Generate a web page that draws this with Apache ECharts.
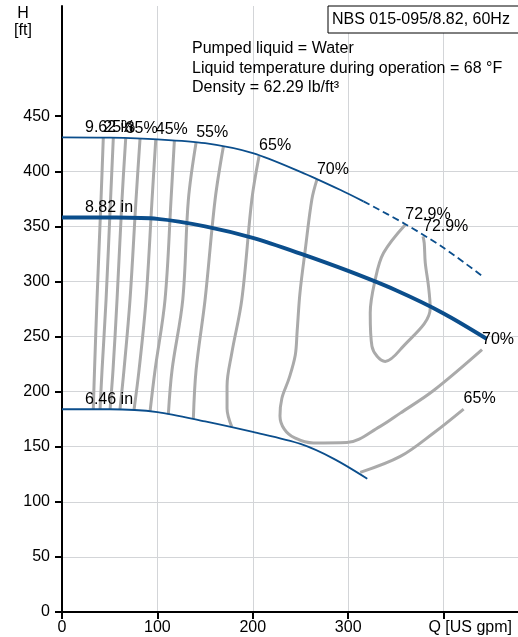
<!DOCTYPE html>
<html><head><meta charset="utf-8">
<script src="https://cdn.jsdelivr.net/npm/echarts@6/dist/echarts.min.js"></script>
<style>html,body{margin:0;padding:0;background:#fff}#c{width:518px;height:637px}</style>
</head><body><div id="c"></div>
<script>
// Impeller curves [Q, H]
const curve962 = [[0,430.8],[50,430.5],[100,429],[150,425.5],[200,416.5],[250,399.5],[292,383],[316,372.7]];
const curve962Dashed = [[316,372.7],[360,352],[400,330.5],[441,304.6]];
const curve882 = [[0,358.1],[50,358],[100,356.8],[150,350],[200,339.5],[250,325.2],[300,309.5],[350,292],[400,271],[445.5,247.8]];
const curve646 = [[0,184],[50,184],[100,181.5],[150,173],[200,163.4],[250,152.5],[285,139],[320,121]];
// Iso-efficiency curves [Q, H]
const eff25 = [[43.3,430.5],[40.9,374.4],[36.7,283.6],[34.1,219.9],[32.8,184]];
const eff30 = [[53.8,430.4],[50.9,374.4],[46.2,283.6],[42.0,219.9],[39.9,184]];
const eff35 = [[66.8,430.1],[62.9,374.4],[57.7,283.6],[53.5,219.9],[50.4,184]];
const eff40 = [[81.8,429.6],[77.6,374.4],[71.3,283.6],[65.0,219.9],[60.8,184]];
const eff45 = [[98.3,429],[94.4,374.4],[88.1,283.6],[80.8,219.9],[75.5,183.5]];
const eff50 = [[117.8,428],[114.3,374.4],[108.0,283.6],[97.6,219.9],[92.3,182]];
const eff55 = [[140.6,426.3],[132.5,374.4],[126.6,283.6],[115.4,219.9],[111.5,179.5]];
const eff60 = [[169.2,422.6],[160.5,374.4],[150.0,283.6],[140.6,219.9],[137.7,175.5]];
const eff65 = [[206.6,413.9],[199.0,374.4],[188.5,283.6],[178,235],[173,205],[173,185],[178,168]];
const eff70 = [[267.2,392.4],[261.9,374.4],[255,328.8],[249.5,290],[246.5,255],[244.5,233],[238,212],[230.5,194],[228.5,178],[233,166],[244,158],[263.6,153.4],[298.6,153.8],[333.6,168.5],[354.6,180.5],[389.5,201],[440.3,238.1]];
const eff65Right = [[312.6,126.7],[354.6,141.2],[389.5,162.5],[421,184.2]];
const eff729 = [[359.8,351.5],[337,325.8],[328.3,301.6],[323.1,271.4],[324.9,241.1],[338.8,227.4],[354.6,238.1],[386,275.9],[384.2,295.5],[380.8,316.8],[379.7,334.9],[378.4,340.9]];
// Curve labels
const labelNames = ['9.62 in','8.82 in','6.46 in','25%','35%','45%','55%','65%','70%','72.9%','72.9%','70%','65%'];
const labelPoints = [[24.1,430.8],[24.1,358.1],[24.1,184],[43.3,430.5],[66.8,430.1],[98.3,429],[140.6,426.3],[206.6,413.9],[267.2,392.4],[359.8,351.5],[378.4,340.9],[440.3,238.1],[421,184.2]];
// Axis ticks
const xTicks = [0,100,200,300,400];
const xLabels = [0,100,200,300];
const yTicks = [0,50,100,150,200,250,300,350,400,450];
const infoLines = ['Pumped liquid = Water','Liquid temperature during operation = 68 °F','Density = 62.29 lb/ft³'];
const titleBox = 'NBS 015-095/8.82, 60Hz';

const FONT = 'Liberation Sans, Arial, sans-serif';
const FS = 16;
const BLUE = '#0b4e8c';
const GRAY = '#aaaaaa';

const effSeries = [eff25,eff30,eff35,eff40,eff45,eff50,eff55,eff60,eff65,eff70,eff65Right,eff729].map(d => ({
  type:'line', data:d, smooth:0.35, showSymbol:false, silent:true,
  lineStyle:{color:GRAY,width:3}, z:2
}));

const chart = echarts.init(document.getElementById('c'), null, {renderer:'canvas'});
chart.setOption({
  animation:false,
  grid:{left:62,right:0,top:6,bottom:25,containLabel:false},
  xAxis:{
    type:'value',min:0,max:478,interval:100,
    name:'Q [US gpm]',nameLocation:'end',nameGap:-6,
    nameTextStyle:{color:'#000',fontSize:FS,fontFamily:FONT,align:'right',verticalAlign:'top',padding:[8,0,0,0]},
    axisLine:{show:true,onZero:false,lineStyle:{color:'#000',width:2}},
    axisTick:{show:true,customValues:xTicks,length:7,lineStyle:{color:'#000',width:2}},
    axisLabel:{customValues:xLabels,color:'#000',fontSize:FS,fontFamily:FONT,margin:8},
    splitLine:{show:true,lineStyle:{color:'#d3d5d8',width:1}}
  },
  yAxis:{
    type:'value',min:0,max:550,interval:50,
    axisLine:{show:true,onZero:false,lineStyle:{color:'#000',width:2}},
    axisTick:{show:true,customValues:yTicks,length:7,lineStyle:{color:'#000',width:2}},
    axisLabel:{customValues:yTicks,color:'#000',fontSize:FS,fontFamily:FONT,margin:12},
    splitLine:{show:true,showMaxLine:false,lineStyle:{color:'#d3d5d8',width:1}}
  },
  graphic:[
    {type:'text',x:23,y:14,style:{text:'H',fill:'#000',font:FS+'px '+FONT,align:'center',verticalAlign:'middle'}},
    {type:'text',x:23,y:31,style:{text:'[ft]',fill:'#000',font:FS+'px '+FONT,align:'center',verticalAlign:'middle'}},
    {type:'rect',shape:{x:328,y:6,width:200,height:27},style:{fill:'#fff',stroke:'#000',lineWidth:1},z:10},
    {type:'text',x:332,y:19.5,style:{text:titleBox,fill:'#000',font:FS+'px '+FONT,verticalAlign:'middle'},z:11},
    {type:'text',x:192,y:49,style:{text:infoLines[0],fill:'#000',font:FS+'px '+FONT,verticalAlign:'middle'},z:11},
    {type:'text',x:192,y:69,style:{text:infoLines[1],fill:'#000',font:FS+'px '+FONT,verticalAlign:'middle'},z:11},
    {type:'text',x:192,y:88,style:{text:infoLines[2],fill:'#000',font:FS+'px '+FONT,verticalAlign:'middle'},z:11}
  ],
  series:[
    ...effSeries,
    {type:'line',data:curve962,smooth:0.3,showSymbol:false,lineStyle:{color:BLUE,width:1.8},z:3},
    {type:'line',data:curve962Dashed,smooth:0.3,showSymbol:false,lineStyle:{color:BLUE,width:1.8,type:[7,4]},z:3},
    {type:'line',data:curve882,smooth:0.3,showSymbol:false,lineStyle:{color:BLUE,width:4},z:3},
    {type:'line',data:curve646,smooth:0.3,showSymbol:false,lineStyle:{color:BLUE,width:1.8},z:3},
    {type:'scatter',symbolSize:0,silent:true,z:5,itemStyle:{opacity:1},
     data:labelPoints.map((p,i)=>({value:p,name:labelNames[i]})),
     label:{show:true,formatter:'{b}',position:'top',align:'left',distance:2,color:'#000',opacity:1,fontSize:FS,fontFamily:FONT}}
  ]
});
</script></body></html>
